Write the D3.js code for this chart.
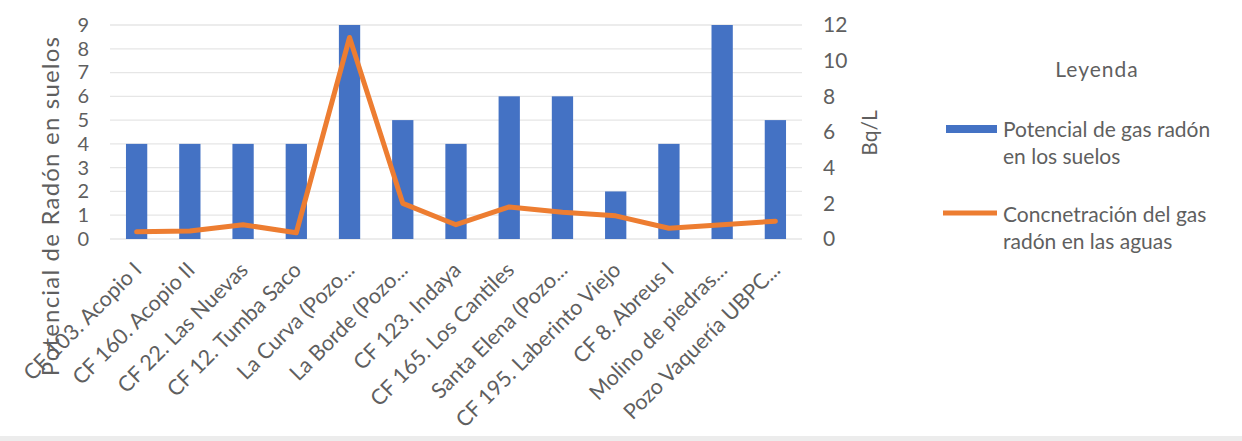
<!DOCTYPE html>
<html><head><meta charset="utf-8">
<script src="https://cdn.jsdelivr.net/npm/d3@7"></script>
<style>
html,body{margin:0;padding:0;background:#fff;}
svg{display:block;font-family:Lato, "Open Sans", sans-serif;}
</style></head>
<body>
<svg id="chart" width="1242" height="441"></svg>
<script>
const categories = ["CF 103. Acopio I","CF 160. Acopio II","CF 22. Las Nuevas","CF 12. Tumba Saco","La Curva (Pozo...","La Borde (Pozo...","CF 123. Indaya","CF 165. Los Cantiles","Santa Elena (Pozo...","CF 195. Laberinto Viejo","CF 8. Abreus I","Molino de piedras...","Pozo Vaquería UBPC..."];
const soilPotential = [4,4,4,4,9,5,4,6,6,2,4,9,5];
const waterRadon = [0.4,0.45,0.8,0.35,11.3,2.0,0.8,1.8,1.5,1.3,0.6,0.8,1.0];
const leftTicks = [0,1,2,3,4,5,6,7,8,9];
const rightTicks = [0,2,4,6,8,10,12];
const seriesNames = [["Potencial de gas radón","en los suelos"],["Concnetración del gas","radón en las aguas"]];
const leftTitle = "Potencial de Radón en suelos";
const rightTitle = "Bq/L";
const legendTitle = "Leyenda";

const svg = d3.select("#chart");
const textColor = "#5f5f5f";
const blue = "#4472C4", orange = "#ED7D31";
const plot = {left:110, right:802, top:25, bottom:239};

// bottom border
svg.append("rect").attr("x",0).attr("y",436).attr("width",1242).attr("height",5).attr("fill","#ececec");

const x = d3.scaleBand().domain(categories).range([plot.left, plot.right]).paddingInner(0.6).paddingOuter(0.3);
const yL = d3.scaleLinear().domain([0,9]).range([plot.bottom, plot.top]);
const yR = d3.scaleLinear().domain([0,12]).range([plot.bottom, plot.top]);

// gridlines
svg.append("g").selectAll("line").data(leftTicks).join("line")
  .attr("x1",plot.left).attr("x2",plot.right)
  .attr("y1",d=>yL(d)).attr("y2",d=>yL(d))
  .attr("stroke","#e6e6e6").attr("stroke-width",1.3);

// left axis
const gl = svg.append("g").attr("transform",`translate(${plot.left-21},0)`)
  .call(d3.axisLeft(yL).tickValues(leftTicks).tickSize(0).tickPadding(0));
gl.select(".domain").remove();
gl.selectAll("text").attr("fill",textColor).style("font-size","20px").style("font-family","Lato");

// right axis
const gr = svg.append("g").attr("transform",`translate(${plot.right+21},0)`)
  .call(d3.axisRight(yR).tickValues(rightTicks).tickSize(0).tickPadding(0));
gr.select(".domain").remove();
gr.selectAll("text").attr("fill",textColor).style("font-size","21px").style("font-family","Lato");

// bars
svg.append("g").selectAll("rect").data(categories).join("rect")
  .attr("x",d=>x(d)).attr("width",x.bandwidth())
  .attr("y",(d,i)=>yL(soilPotential[i]))
  .attr("height",(d,i)=>yL(0)-yL(soilPotential[i]))
  .attr("fill",blue);

// line
const line = d3.line().x((d,i)=>x(categories[i])+x.bandwidth()/2).y(d=>yR(d));
svg.append("path").datum(waterRadon).attr("d",line)
  .attr("fill","none").attr("stroke",orange).attr("stroke-width",5)
  .attr("stroke-linejoin","round").attr("stroke-linecap","round");

// x labels
svg.append("g").selectAll("text").data(categories).join("text")
  .attr("transform",d=>`translate(${x(d)+x.bandwidth()/2+1},${plot.bottom+27}) rotate(-45)`)
  .attr("text-anchor","end").attr("dy","0.35em")
  .attr("fill",textColor).style("font-size","21.5px")
  .text(d=>d);

// axis titles
svg.append("text").attr("transform","translate(59,206) rotate(-90)")
  .attr("text-anchor","middle").attr("fill",textColor).style("font-size","24px")
  .style("letter-spacing","1.2px")
  .text(leftTitle);
svg.append("text").attr("transform","translate(877,133) rotate(-90)")
  .attr("text-anchor","middle").attr("fill",textColor).style("font-size","21px")
  .text(rightTitle);

// legend
svg.append("text").attr("x",1097).attr("y",77).attr("text-anchor","middle")
  .attr("fill",textColor).style("font-size","21px").style("letter-spacing","1px").text(legendTitle);
svg.append("rect").attr("x",946).attr("y",125).attr("width",51).attr("height",8).attr("fill",blue);
svg.append("line").attr("x1",943).attr("x2",997).attr("y1",213).attr("y2",213)
  .attr("stroke",orange).attr("stroke-width",5);
const legY = [[137,164],[222,249]];
seriesNames.forEach((lines,k)=>{
  lines.forEach((t,j)=>{
    svg.append("text").attr("x",1003).attr("y",legY[k][j]).attr("fill",textColor)
      .style("font-size","21px").text(t);
  });
});
</script>
</body></html>
